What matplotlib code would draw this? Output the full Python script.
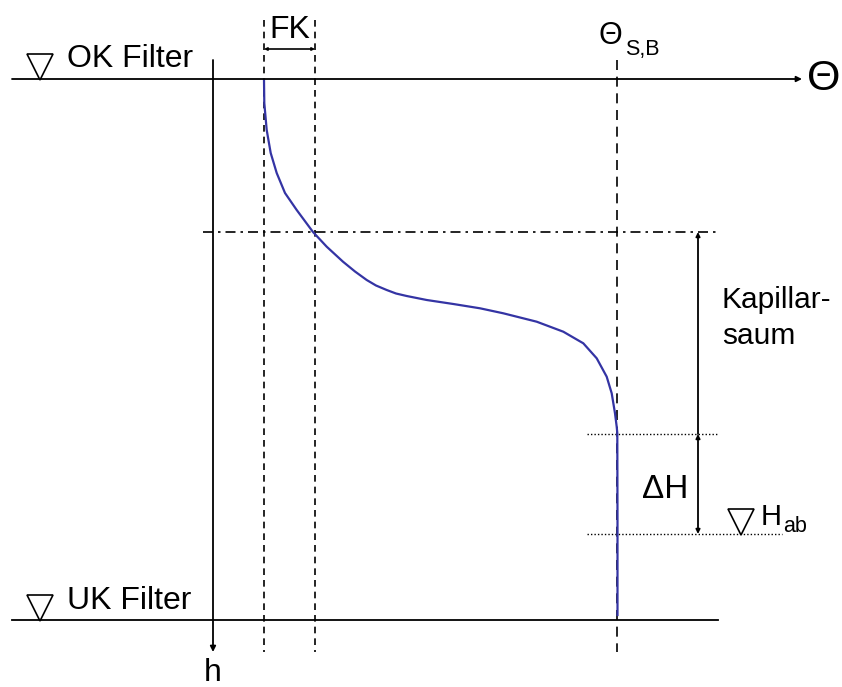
import matplotlib
matplotlib.use("Agg")
import matplotlib.pyplot as plt

plt.rcParams['font.family'] = ['Liberation Sans', 'DejaVu Sans']

# retention curve, sketch coordinates (theta to the right, h downwards)
curve_theta = [264, 264.3, 266.7, 270.7, 276.7, 285, 296.7, 313, 326.7, 343, 355, 366.7,
               376, 386.7, 396, 406.7, 426.7, 453.3, 480, 503.3, 536.7, 563.3, 583.3,
               596.7, 606.7, 611.7, 615, 616.7, 617.3, 617.5, 617.5]
curve_h = [80, 103, 130, 153, 173, 193, 210, 232, 246.7, 261.7, 271.5, 280,
           285.5, 290, 293.5, 296, 300, 304, 308.3, 313.3, 321.7, 331.7, 343.3,
           358.3, 376.7, 393.3, 413.3, 426.7, 433, 520, 615]

# levels
h_ok = 79          # OK Filter
h_uk = 620         # UK Filter
h_kap = 232        # top of capillary fringe
h_mid = 434
h_ab = 534         # H_ab
theta_axis = 213
theta_fk = [264, 315]
theta_sb = 617

fig = plt.figure(figsize=(8.42, 6.87), dpi=100)
ax = fig.add_axes([0, 0, 1, 1])
ax.set_xlim(0, 842)
ax.set_ylim(687, 0)
ax.axis('off')

k = dict(color='black', lw=1.3)
# horizontal lines
ax.annotate('', xy=(802, h_ok), xytext=(12, h_ok),
            arrowprops=dict(arrowstyle='-|>', color='black', lw=1.3, mutation_scale=8,
                            shrinkA=0, shrinkB=0))
ax.plot([12, 718], [h_uk, h_uk], **k)
# h axis
ax.annotate('', xy=(theta_axis, 652), xytext=(theta_axis, 60),
            arrowprops=dict(arrowstyle='-|>', color='black', lw=1.3, mutation_scale=8,
                            shrinkA=0, shrinkB=0))

# dashed verticals
for x in theta_fk:
    ax.plot([x, x], [20, 652], color='black', lw=1.2, ls=(0, (4, 3)))
ax.plot([theta_sb, theta_sb], [60, 652], color='black', lw=1.2, ls=(0, (6, 4)))

# FK dimension
ax.annotate('', xy=(theta_fk[0], 49), xytext=(theta_fk[1], 49),
            arrowprops=dict(arrowstyle='<|-|>', color='black', lw=1.2, mutation_scale=4,
                            shrinkA=0, shrinkB=0))
ax.text(sum(theta_fk) / 2, 30, 'FK', fontsize=23, ha='center', va='center')

# dash-dot line
ax.plot([203, 720], [h_kap, h_kap], color='black', lw=1.2, ls=(0, (6, 3, 1.5, 3)))
# dotted lines
ax.plot([587, 718], [h_mid, h_mid], color='black', lw=1.0, ls=(0, (1, 1.5)))
ax.plot([587, 782], [h_ab, h_ab], color='black', lw=1.0, ls=(0, (1, 1.5)))

# Kapillarsaum / Delta H arrows
ax.annotate('', xy=(698, h_kap), xytext=(698, h_mid),
            arrowprops=dict(arrowstyle='-|>', color='black', lw=1.3, mutation_scale=6,
                            shrinkA=0, shrinkB=0))
ax.annotate('', xy=(698, h_mid), xytext=(698, h_ab),
            arrowprops=dict(arrowstyle='<|-|>', color='black', lw=1.3, mutation_scale=6,
                            shrinkA=0, shrinkB=0))

# curve
ax.plot(curve_theta, curve_h, color='#3434a4', lw=1.6, solid_joinstyle='round')

# water level triangles
tri = dict(marker='v', ms=18.5, mfc='none', mec='black', mew=1.2, ls='none')
ax.plot([40, 40], [h_ok - 12.5, h_uk - 12.5], **tri)
ax.plot(741, h_ab - 12.5, **tri)

# labels
ax.text(67, 59, 'OK Filter', fontsize=23, va='center')
ax.text(67, 601, 'UK Filter', fontsize=23, va='center')
ax.text(761, 517, 'H', fontsize=21, va='center')
ax.text(783, 527, 'ab', fontsize=15.5, va='center')
ax.text(642, 489, 'ΔH', fontsize=24, va='center')
ax.text(722, 318, 'Kapillar-\nsaum', fontsize=21.5, va='center', linespacing=1.35)
ax.text(824, 79, 'Θ', fontsize=31, ha='center', va='center')
ax.text(598, 36, 'Θ', fontsize=22, va='center')
ax.text(625, 50, 'S,B', fontsize=15.5, va='center')
ax.text(theta_axis, 673, 'h', fontsize=23, ha='center', va='center')

fig.savefig('out.png', dpi=100)
